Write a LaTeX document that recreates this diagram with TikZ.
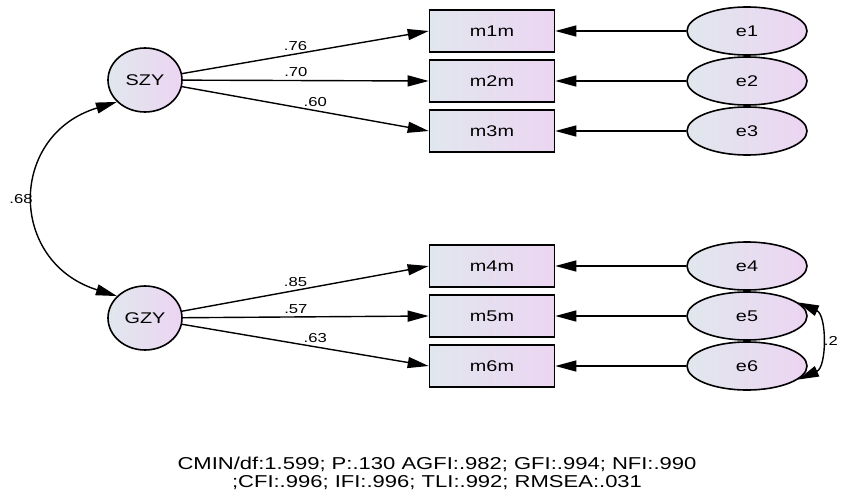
\documentclass[tikz,border=0pt]{standalone}
\usepackage{fontspec}
\setmainfont[FakeStretch=1.28]{Liberation Sans}
\usetikzlibrary{arrows.meta,shapes.geometric}
\definecolor{fillL}{RGB}{225,231,238}
\definecolor{fillR}{RGB}{236,213,242}
\begin{document}
\begin{tikzpicture}[x=1pt,y=-1pt,line width=1.4pt,
	tip/.style={-{Triangle[length=21pt,width=11pt]}},
	both/.style={{Triangle[length=21pt,width=11pt]}-{Triangle[length=21pt,width=11pt]}},
	latent/.style={ellipse,draw,line width=1.6pt,left color=fillL,right color=fillR,minimum width=74pt,minimum height=64pt,inner sep=0pt,font=\fontsize{15.5}{17}\selectfont},
	indic/.style={rectangle,draw,line width=1.6pt,left color=fillL,right color=fillR,minimum width=125pt,minimum height=42pt,inner sep=0pt,font=\fontsize{15.5}{17}\selectfont},
	err/.style={ellipse,draw,line width=1.6pt,left color=fillL,right color=fillR,minimum width=120pt,minimum height=48pt,inner sep=0pt,font=\fontsize{15.5}{17}\selectfont},
	coef/.style={font=\fontsize{13}{15}\selectfont,inner sep=1pt}]
	\useasboundingbox (0,0) rectangle (841,495);
	% latent factors
	\node [latent] (SZY) at (145,80) {SZY};
	\node [latent] (GZY) at (145,318) {GZY};
	% indicators
	\node [indic] (m1m) at (492,31) {m1m};
	\node [indic] (m2m) at (492,81) {m2m};
	\node [indic] (m3m) at (492,131) {m3m};
	\node [indic] (m4m) at (492,266) {m4m};
	\node [indic] (m5m) at (492,316) {m5m};
	\node [indic] (m6m) at (492,366) {m6m};
	% errors
	\node [err] (e1) at (747,31) {e1};
	\node [err] (e2) at (747,81) {e2};
	\node [err] (e3) at (747,131) {e3};
	\node [err] (e4) at (747,266) {e4};
	\node [err] (e5) at (747,316) {e5};
	\node [err] (e6) at (747,366) {e6};
	% loadings
	\draw [tip] (SZY) -- node [coef,pos=0.46,above=2pt] (c1) {.76} (m1m.west);
	\draw [tip] (SZY) -- node [coef,pos=0.46,above=2pt] (c2) {.70} (m2m.west);
	\draw [tip] (SZY) -- node [coef,pos=0.54,above=2pt] (c3) {.60} (m3m.west);
	\draw [tip] (GZY) -- node [coef,pos=0.46,above=2pt] (c4) {.85} (m4m.west);
	\draw [tip] (GZY) -- node [coef,pos=0.46,above=2pt] (c5) {.57} (m5m.west);
	\draw [tip] (GZY) -- node [coef,pos=0.54,above=2pt] (c6) {.63} (m6m.west);
	\foreach \i in {1,...,6}
		\draw [tip] (e\i.west) -- (m\i m.east);
	% covariances
	\draw [both] (SZY.218) .. controls (8,135) and (8,262) .. node [coef,left=1pt] (r1) {.68} (GZY.142);
	\draw [both] (e5.15) .. controls (827,315) and (827,367) .. node [coef,right=3pt,inner sep=0.5pt] (r2) {.2} (e6.-15);
	% fit indices
	\node [align=center,font=\fontsize{17.2}{18}\selectfont] (fit) at (437,473)
		{CMIN/df:1.599; P:.130 AGFI:.982; GFI:.994; NFI:.990\\;CFI:.996; IFI:.996; TLI:.992; RMSEA:.031};
\end{tikzpicture}
\end{document}
